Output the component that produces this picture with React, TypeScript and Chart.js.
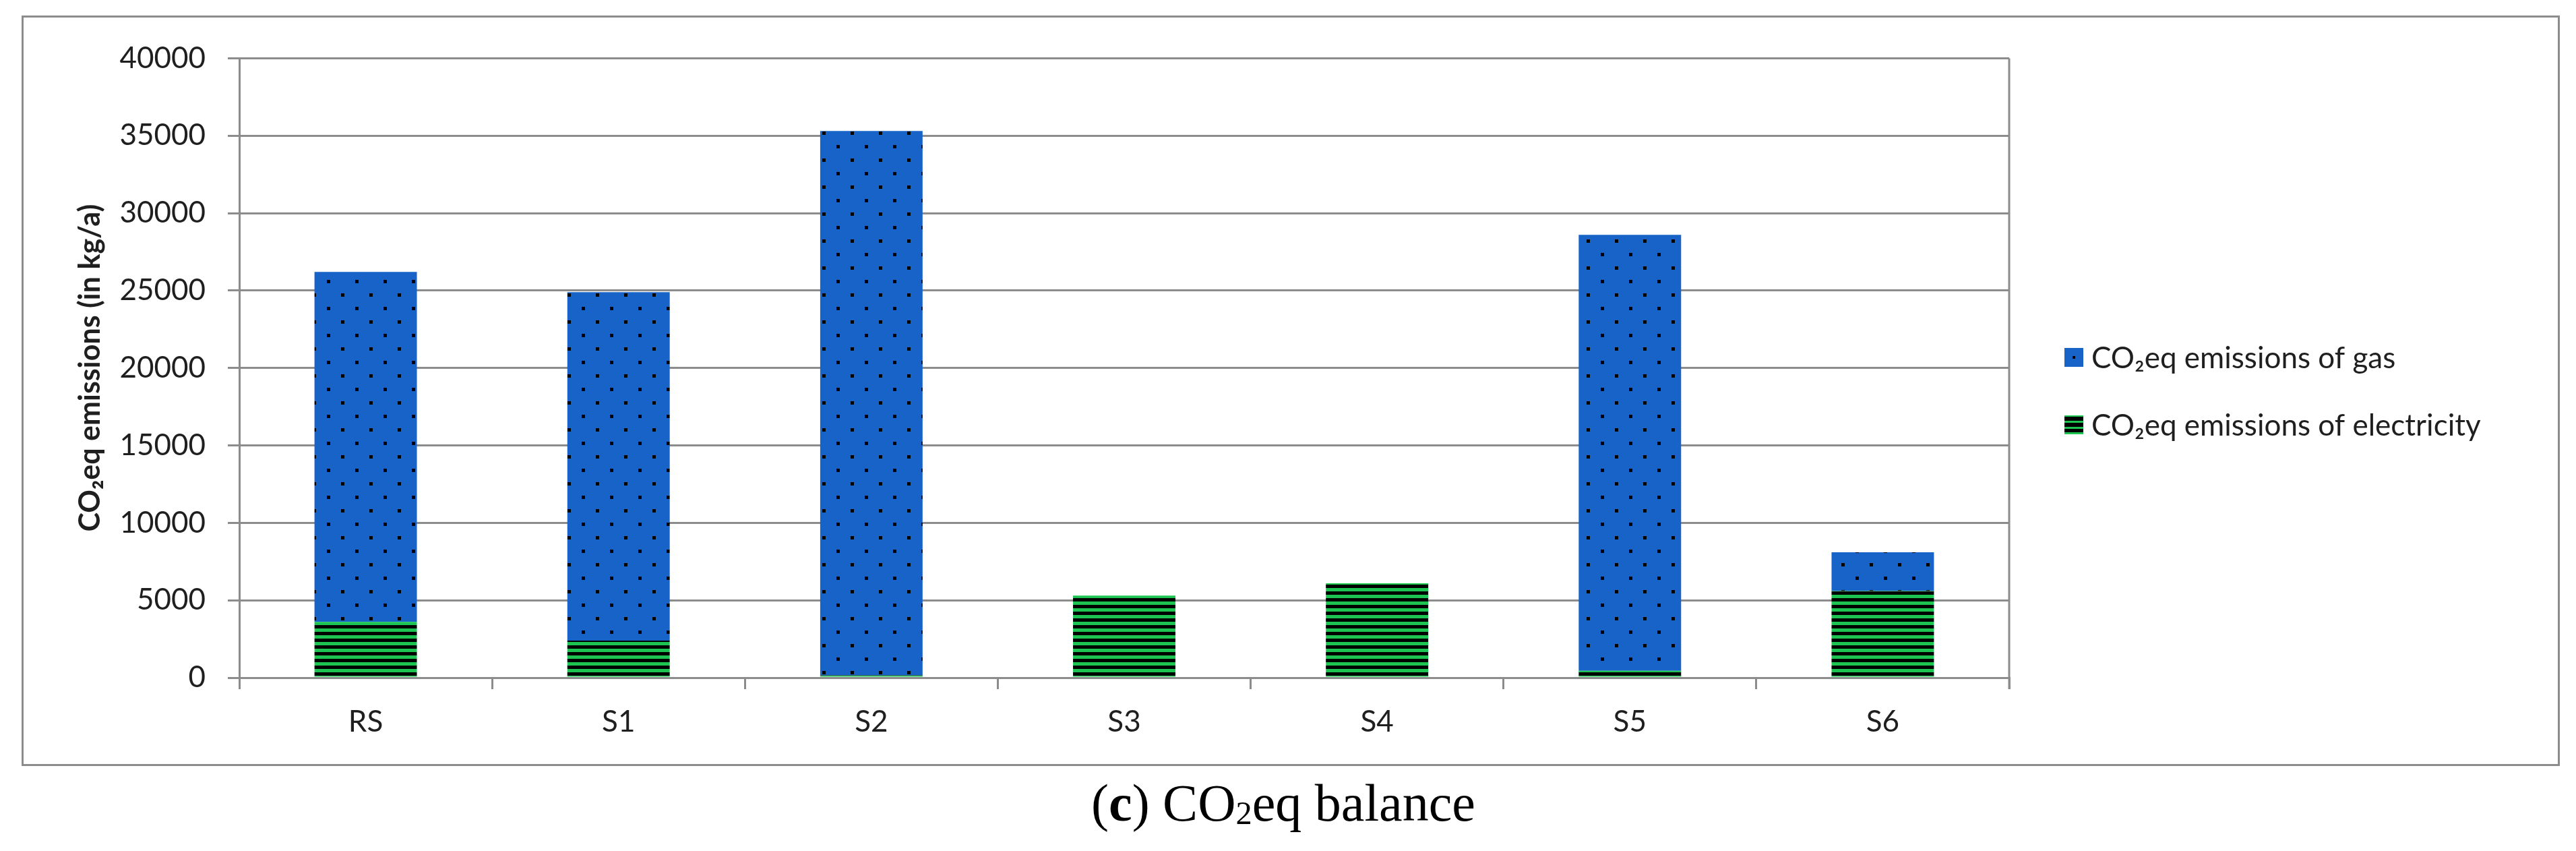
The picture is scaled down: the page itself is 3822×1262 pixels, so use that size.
import React, { useEffect, useRef } from 'react';
import { Chart, registerables } from 'chart.js';

Chart.register(...registerables);

// ---- data ----
const categories = ['RS', 'S1', 'S2', 'S3', 'S4', 'S5', 'S6'];
const gasValues = [22600, 22500, 35150, 0, 0, 28150, 2500];
const electricityValues = [3600, 2400, 150, 5300, 6100, 450, 5600];
const seriesLabels = ['CO₂eq emissions of gas', 'CO₂eq emissions of electricity'];
const yAxisTitle = 'CO₂eq emissions (in kg/a)';
const yMin = 0;
const yMax = 40000;
const yStep = 5000;

// ---- style ----
const GAS_BLUE = '#1763c7';
const ELEC_GREEN = '#1dc452';
const GRID = '#8c8c8c';
const TEXT = '#1f1f1f';
const FONT = 'Lato, "DejaVu Sans", sans-serif';

const CANVAS_W = 3759;
const CANVAS_H = 1105;

function makeDotPattern(ctx: CanvasRenderingContext2D) {
  const c = document.createElement('canvas');
  c.width = 42;
  c.height = 40;
  const g = c.getContext('2d')!;
  g.fillStyle = GAS_BLUE;
  g.fillRect(0, 0, 42, 40);
  g.fillStyle = '#000';
  g.fillRect(8, 8, 5, 5);
  g.fillRect(29, 28, 5, 5);
  return ctx.createPattern(c, 'repeat')!;
}

function makeStripePattern(ctx: CanvasRenderingContext2D) {
  const c = document.createElement('canvas');
  c.width = 10;
  c.height = 10;
  const g = c.getContext('2d')!;
  g.fillStyle = ELEC_GREEN;
  g.fillRect(0, 0, 10, 10);
  g.fillStyle = '#000';
  g.fillRect(0, 0, 10, 5);
  return ctx.createPattern(c, 'repeat')!;
}

const sideLegend = {
  id: 'sideLegend',
  afterDraw(chart: any) {
    const ctx: CanvasRenderingContext2D = chart.ctx;
    const boxX = 3027;
    const textX = 3067;
    const y0 = 503;
    const gap = 100;
    const box = 28;
    ctx.save();
    ctx.font = `44px ${FONT}`;
    ctx.textBaseline = 'middle';
    ctx.textAlign = 'left';
    seriesLabels.forEach((label, i) => {
      const y = y0 + i * gap;
      const top = Math.round(y - box / 2);
      if (i === 0) {
        ctx.fillStyle = GAS_BLUE;
        ctx.fillRect(boxX, top, box, box);
        ctx.fillStyle = '#000';
        ctx.fillRect(boxX + 12, top + 12, 4, 4);
      } else {
        ctx.fillStyle = ELEC_GREEN;
        ctx.fillRect(boxX, top, box, box);
        ctx.fillStyle = '#000';
        ctx.fillRect(boxX, top + 2, box, 6);
        ctx.fillRect(boxX, top + 11, box, 6);
        ctx.fillRect(boxX, top + 20, box, 5);
      }
      ctx.fillStyle = TEXT;
      ctx.fillText(label, textX, y + 2);
    });
    ctx.restore();
  },
};

const plotRightEdge = {
  id: 'plotRightEdge',
  afterDraw(chart: any) {
    const { ctx, chartArea } = chart;
    ctx.save();
    ctx.strokeStyle = GRID;
    ctx.lineWidth = 3;
    ctx.beginPath();
    ctx.moveTo(chartArea.right, chartArea.top);
    ctx.lineTo(chartArea.right, chartArea.bottom + 17);
    ctx.stroke();
    ctx.restore();
  },
};

export default function App() {
  const ref = useRef<HTMLCanvasElement | null>(null);

  useEffect(() => {
    const canvas = ref.current!;
    const ctx = canvas.getContext('2d')!;
    const dots = makeDotPattern(ctx);
    const stripes = makeStripePattern(ctx);

    const chart = new Chart(ctx, {
      type: 'bar',
      data: {
        labels: categories,
        datasets: [
          {
            label: seriesLabels[1],
            data: electricityValues,
            backgroundColor: stripes as any,
            borderWidth: 0,
            barPercentage: 0.405,
            categoryPercentage: 1,
          },
          {
            label: seriesLabels[0],
            data: gasValues,
            backgroundColor: dots as any,
            borderWidth: 0,
            barPercentage: 0.405,
            categoryPercentage: 1,
          },
        ],
      },
      options: {
        animation: false,
        responsive: false,
        devicePixelRatio: 1,
        layout: { padding: { left: 0, top: 55, right: 814, bottom: 0 } },
        plugins: {
          legend: { display: false },
          tooltip: { enabled: false },
          title: { display: false },
        },
        scales: {
          x: {
            stacked: true,
            grid: {
              display: true,
              drawOnChartArea: false,
              drawTicks: true,
              tickLength: 17,
              color: GRID,
              lineWidth: 3,
              offset: true,
            },
            border: { display: true, color: GRID, width: 3 },
            ticks: {
              color: TEXT,
              padding: 22,
              font: { family: FONT, size: 44 },
              maxRotation: 0,
            },
            afterFit: (scale: any) => {
              scale.height = 127;
            },
          },
          y: {
            stacked: true,
            min: yMin,
            max: yMax,
            ticks: {
              stepSize: yStep,
              color: TEXT,
              padding: 33,
              font: { family: FONT, size: 44 },
              callback: (v: any) => String(v),
            },
            grid: {
              color: GRID,
              lineWidth: 3,
              drawTicks: true,
              tickLength: 17,
            },
            border: { display: true, color: GRID, width: 3 },
            title: {
              display: true,
              text: yAxisTitle,
              color: TEXT,
              font: { family: FONT, size: 43, weight: 'bold' },
              padding: { top: 72, bottom: 0 },
            },
            afterFit: (scale: any) => {
              scale.width = 319;
            },
          },
        },
      },
      plugins: [sideLegend, plotRightEdge],
    });
    return () => chart.destroy();
  }, []);

  return (
    <div style={{ position: 'relative', width: 3806, height: 1246, overflow: 'hidden' }}>
      <div
        style={{
          position: 'absolute',
          left: 24,
          top: 15,
          width: 3766,
          height: 1113,
          boxSizing: 'border-box',
          border: `3px solid ${GRID}`,
        }}
      />
      <canvas
        ref={ref}
        width={CANVAS_W}
        height={CANVAS_H}
        style={{ position: 'absolute', left: 28, top: 19, width: CANVAS_W, height: CANVAS_H }}
      />
      <div
        style={{
          position: 'absolute',
          left: 896,
          top: 1144,
          width: 2000,
          textAlign: 'center',
          fontFamily: '"Liberation Serif", serif',
          fontSize: 78,
          lineHeight: 1,
          color: '#000',
          whiteSpace: 'nowrap',
        }}
      >
        (<b>c</b>) CO
        <span style={{ fontSize: '0.62em', position: 'relative', top: '0.1em' }}>2</span>
        eq balance
      </div>
    </div>
  );
}
